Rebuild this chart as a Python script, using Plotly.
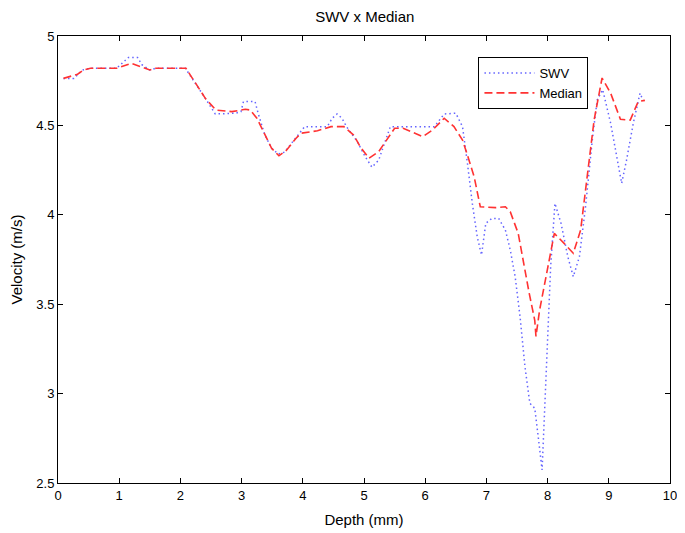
import plotly.graph_objects as go

# SWV trace (blue dotted)
depth_swv = [0.09, 0.26, 0.40, 0.55, 0.96, 1.07, 1.15, 1.30, 1.37, 1.50, 1.60, 2.08, 2.25, 2.41,
             2.57, 2.90, 2.99, 3.03, 3.22, 3.27, 3.38, 3.49, 3.60, 3.70, 3.88, 4.03, 4.40, 4.48,
             4.56, 4.64, 4.72, 4.89, 5.02, 5.13, 5.24, 5.32, 5.43, 6.15, 6.23, 6.31, 6.50, 6.61,
             6.69, 6.77, 6.85, 6.92, 6.99, 7.09, 7.20, 7.31, 7.39, 7.47, 7.55, 7.63, 7.71, 7.79,
             7.84, 7.91, 7.94, 8.00, 8.05, 8.12, 8.22, 8.33, 8.42, 8.52, 8.62, 8.73, 8.81, 8.90,
             9.03, 9.13, 9.21, 9.29, 9.40, 9.51, 9.56]
swv = [4.763, 4.763, 4.81, 4.82, 4.82, 4.856, 4.88, 4.88, 4.84, 4.81, 4.82, 4.82, 4.735, 4.65,
       4.564, 4.568, 4.577, 4.633, 4.633, 4.568, 4.446, 4.372, 4.34, 4.35, 4.428, 4.493, 4.493, 4.54,
       4.564, 4.54, 4.49, 4.41, 4.325, 4.266, 4.306, 4.38, 4.493, 4.493, 4.53, 4.564, 4.568, 4.493,
       4.288, 4.064, 3.877, 3.775, 3.952, 3.98, 3.98, 3.915, 3.803, 3.654, 3.43, 3.15, 2.946, 2.918,
       2.778, 2.573, 2.815, 3.28, 3.71, 4.064, 3.952, 3.766, 3.654, 3.766, 4.045, 4.418, 4.642, 4.70,
       4.512, 4.325, 4.176, 4.306, 4.512, 4.68, 4.64]

# Median trace (red dashed)
depth_med = [0.09, 0.32, 0.42, 0.53, 0.96, 1.20, 1.50, 1.60, 2.09, 2.25, 2.41, 2.58, 2.84, 3.06,
             3.14, 3.25, 3.38, 3.49, 3.61, 3.73, 3.89, 3.97, 4.24, 4.46, 4.67, 4.83, 4.94, 5.08,
             5.24, 5.37, 5.50, 5.64, 5.96, 6.12, 6.31, 6.47, 6.61, 6.69, 6.80, 6.90, 7.15, 7.31,
             7.39, 7.52, 7.62, 7.70, 7.79, 7.81, 7.87, 7.95, 8.05, 8.11, 8.27, 8.42, 8.54, 8.65,
             8.76, 8.89, 9.03, 9.19, 9.35, 9.48, 9.59]
median = [4.763, 4.786, 4.81, 4.82, 4.82, 4.847, 4.81, 4.82, 4.82, 4.735, 4.65, 4.586, 4.577, 4.59,
          4.586, 4.54, 4.446, 4.372, 4.33, 4.36, 4.428, 4.456, 4.47, 4.493, 4.493, 4.446, 4.38, 4.316,
          4.353, 4.418, 4.484, 4.484, 4.437, 4.474, 4.54, 4.493, 4.418, 4.334, 4.213, 4.045, 4.04, 4.045,
          4.017, 3.896, 3.70, 3.56, 3.41, 3.32, 3.468, 3.617, 3.785, 3.896, 3.84, 3.785, 3.915, 4.232,
          4.53, 4.765, 4.68, 4.534, 4.53, 4.633, 4.64]

x_ticks = [0, 1, 2, 3, 4, 5, 6, 7, 8, 9, 10]
y_ticks = [2.5, 3, 3.5, 4, 4.5, 5]

font = "Liberation Sans, Arial, sans-serif"

fig = go.Figure()
fig.add_trace(go.Scatter(x=depth_swv, y=swv, mode="lines", name="SWV",
                         line=dict(color="rgb(100,100,255)", width=1.5, dash="1.5px,3px")))
fig.add_trace(go.Scatter(x=depth_med, y=median, mode="lines", name="Median",
                         line=dict(color="rgb(255,50,50)", width=1.6, dash="8px,4px")))

axis_common = dict(showgrid=False, zeroline=False, showline=True, linecolor="black", linewidth=1,
                   mirror="ticks", ticks="inside", ticklen=5, tickcolor="black",
                   tickfont=dict(family=font, size=13, color="black"))

# the page body has an 8px margin, so the figure is sized to fit inside the window
fig.update_layout(
    width=677, height=525,
    margin=dict(l=50, r=8, t=28, b=50),
    paper_bgcolor="white", plot_bgcolor="white",
    title=dict(text="SWV x Median", x=0.527, xanchor="center", y=0.994, yanchor="top",
               font=dict(family=font, size=15, color="black")),
    xaxis=dict(range=[0, 10], tickvals=x_ticks, ticktext=[str(v) for v in x_ticks], automargin=True,
               title=dict(text="Depth (mm)", font=dict(family=font, size=15, color="black"), standoff=12),
               **axis_common),
    yaxis=dict(range=[2.5, 5], tickvals=y_ticks, ticktext=[str(v) for v in y_ticks], automargin=False,
               title=dict(text="Velocity (m/s)", font=dict(family=font, size=15, color="black"), standoff=10),
               **axis_common),
    legend=dict(x=0.687, y=0.953, xanchor="left", yanchor="top", bgcolor="white",
                bordercolor="black", borderwidth=1, font=dict(family=font, size=13, color="black"),
                itemwidth=50, tracegroupgap=0),
    showlegend=True,
)

fig.write_html("out.html")
